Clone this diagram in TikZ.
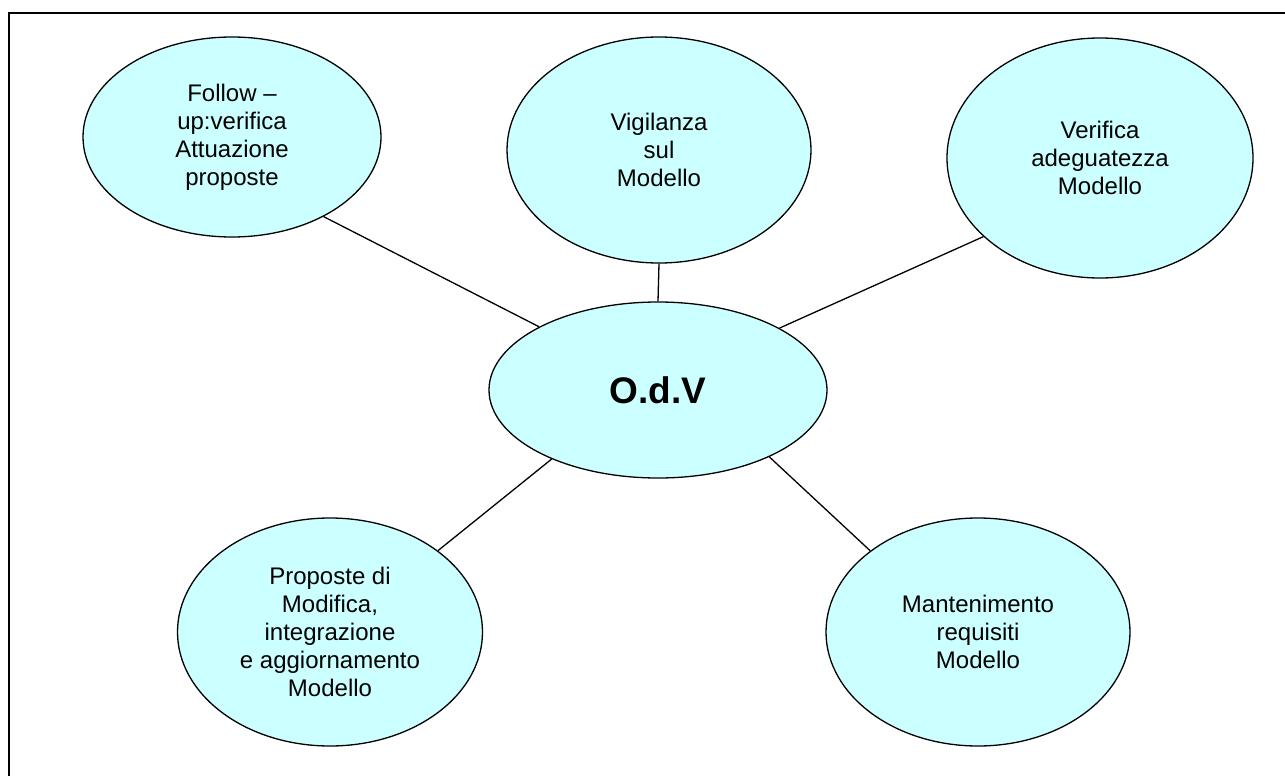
\documentclass[tikz,border=0pt]{standalone}
\usepackage{fontspec}
\setmainfont{Liberation Sans}
\usetikzlibrary{shapes.geometric}
\definecolor{bubble}{HTML}{CCFFFF}
\tikzset{
  bubble/.style={ellipse, draw=black, line width=0.65pt, fill=bubble,
    inner sep=0pt, align=center, font=\fontsize{12}{14}\selectfont},
  hub/.style={bubble, font=\fontsize{18.5}{22}\selectfont\bfseries},
  link/.style={draw=black, line width=0.65pt},
  frame/.style={draw=black, line width=1pt}
}
\begin{document}
\begin{tikzpicture}[x=0.5pt, y=-0.5pt]
\useasboundingbox (0,0) rectangle (1285,776);
% page frame (top and left edges)
\draw[frame] (8.5,776) -- (8.5,13) -- (1285,13);

% central node
\node[hub, minimum width=169pt, minimum height=88pt] (odv) at (658,390) {O.d.V};

% surrounding nodes
\node[bubble, minimum width=149pt, minimum height=100pt] (follow) at (232,137)
  {Follow --\\up:verifica\\Attuazione\\proposte};
\node[bubble, minimum width=152pt, minimum height=113pt] (vig) at (659,150)
  {Vigilanza\\sul\\Modello};
\node[bubble, minimum width=153pt, minimum height=120pt] (ver) at (1100,158)
  {Verifica\\adeguatezza\\Modello};
\node[bubble, minimum width=152.5pt, minimum height=114pt] (prop) at (330,632)
  {Proposte di\\Modifica,\\integrazione\\e aggiornamento\\Modello};
\node[bubble, minimum width=152pt, minimum height=114pt] (mant) at (978,632)
  {Mantenimento\\requisiti\\Modello};

% spokes
\draw[link] (follow.-41) -- (odv.152);
\draw[link] (vig.south) -- (odv.north);
\draw[link] (ver.-146) -- (odv.27);
\draw[link] (prop.37) -- (odv.-147);
\draw[link] (mant.143) -- (odv.-31);
\end{tikzpicture}
\end{document}
